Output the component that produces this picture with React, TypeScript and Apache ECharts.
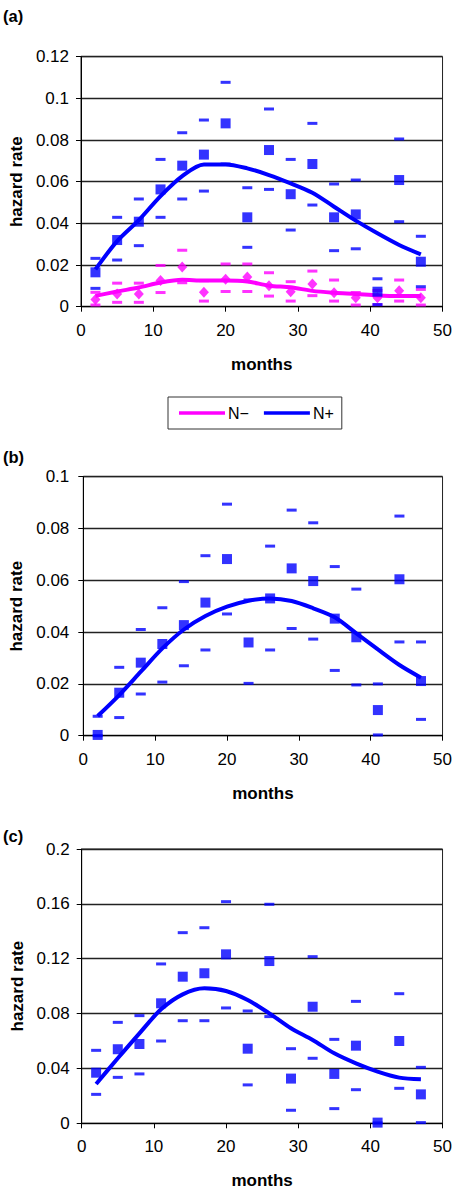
import React, { useEffect, useRef } from "react";
import * as echarts from "echarts";

const months = [2, 5, 8, 11, 14, 17, 20, 23, 26, 29, 32, 35, 38, 41, 44, 47];
const xTicks = { min: 0, max: 50, interval: 10 };

// Panel (a)
const aPosObs = [0.0165, 0.032, 0.0408, 0.0563, 0.0677, 0.073, 0.088, 0.0429, 0.0752, 0.054, 0.0685, 0.0429, 0.0443, 0.0072, 0.0608, 0.0216];
const aPosUpper = [0.0232, 0.0429, 0.0517, 0.0707, 0.0835, 0.0896, 0.1077, 0.0571, 0.0949, 0.0707, 0.088, 0.0589, 0.0608, 0.0134, 0.0805, 0.0338];
const aPosLower = [0.0088, 0.0224, 0.0293, 0.0429, 0.0517, 0.0555, 0.0685, 0.0285, 0.0563, 0.0368, 0.0488, 0.0269, 0.0278, 0.001, 0.0408, 0.0096];
const aPosFit = [0.0179, 0.0315, 0.0416, 0.0531, 0.0627, 0.0683, 0.0683, 0.0664, 0.0632, 0.0592, 0.0547, 0.048, 0.0413, 0.0352, 0.0296, 0.0251];
const aNegObs = [0.0035, 0.0061, 0.0061, 0.0126, 0.019, 0.0069, 0.0132, 0.0142, 0.0101, 0.0072, 0.0109, 0.0067, 0.0043, 0.0043, 0.0077, 0.0043];
const aNegUpper = [0.0069, 0.0113, 0.0113, 0.0198, 0.0271, 0.0125, 0.0205, 0.0205, 0.0163, 0.012, 0.0171, 0.0128, 0.0068, 0.0078, 0.0128, 0.0083];
const aNegLower = [0.0008, 0.0021, 0.0021, 0.0068, 0.0115, 0.0027, 0.0073, 0.0073, 0.0051, 0.0027, 0.0053, 0.0027, 0.0008, 0.001, 0.0027, 0.0008];
const aNegFit = [0.0052, 0.0073, 0.0092, 0.0116, 0.0129, 0.0126, 0.0126, 0.0121, 0.0101, 0.0093, 0.0076, 0.0067, 0.0061, 0.0054, 0.0051, 0.0051];

// Panel (b)
const bObs = [0.0003, 0.0166, 0.0282, 0.0354, 0.0427, 0.0514, 0.0682, 0.036, 0.053, 0.0646, 0.0597, 0.0452, 0.038, 0.0099, 0.0604, 0.0211];
const bUpper = [0.0075, 0.0264, 0.041, 0.0494, 0.0595, 0.0695, 0.0894, 0.0524, 0.0732, 0.0871, 0.0822, 0.0653, 0.0566, 0.02, 0.0848, 0.0362];
const bLower = [0, 0.007, 0.0161, 0.0207, 0.027, 0.0331, 0.047, 0.0202, 0.0331, 0.0414, 0.0373, 0.0252, 0.0196, 0.0003, 0.0362, 0.0063];
const bFit = [0.0076, 0.0157, 0.0247, 0.0337, 0.041, 0.0462, 0.0498, 0.0521, 0.053, 0.052, 0.0492, 0.0457, 0.0395, 0.0333, 0.0273, 0.0224];

// Panel (c)
const cObs = [0.0369, 0.054, 0.0578, 0.0875, 0.1069, 0.1094, 0.1232, 0.0544, 0.1183, 0.0326, 0.085, 0.036, 0.0566, 0.0005, 0.06, 0.0211];
const cUpper = [0.0532, 0.0736, 0.0785, 0.1162, 0.139, 0.1426, 0.1616, 0.0819, 0.1597, 0.0544, 0.1215, 0.0612, 0.0889, null, 0.0945, 0.0408];
const cLower = [0.0211, 0.0335, 0.036, 0.06, 0.0748, 0.0748, 0.0841, 0.028, 0.0778, 0.0095, 0.0474, 0.0107, 0.0245, 0.0003, 0.0255, 0.0005];
const cFit = [0.0287, 0.0474, 0.0656, 0.0831, 0.094, 0.0984, 0.0965, 0.0899, 0.0802, 0.0693, 0.0608, 0.051, 0.0437, 0.0377, 0.0333, 0.0321];

const yScales = [
  { min: 0, max: 0.12, interval: 0.02 },
  { min: 0, max: 0.1, interval: 0.02 },
  { min: 0, max: 0.2, interval: 0.04 },
];
const panelLabels = ["(a)", "(b)", "(c)"];
const legendNames = ["N\u2212", "N+"];

const BLUE = "#0000FF";
const PINK = "#FF00FF";
const FONT = "'Liberation Sans', Arial, Helvetica, sans-serif";

function pairs(vals: (number | null)[]) {
  return months
    .map((m, i) => (vals[i] == null ? null : [m, vals[i]]))
    .filter((p) => p !== null);
}

function groupSeries(
  idx: number,
  name: string,
  color: string,
  obs: (number | null)[],
  upper: (number | null)[],
  lower: (number | null)[],
  fit: (number | null)[],
  symbol: string,
  symbolSize: number | number[]
) {
  const common = { xAxisIndex: idx, yAxisIndex: idx };
  return [
    {
      ...common,
      type: "scatter",
      name: name + " upper",
      symbol: "rect",
      symbolSize: [10, 3],
      itemStyle: { color },
      data: pairs(upper),
      z: 3,
    },
    {
      ...common,
      type: "scatter",
      name: name + " lower",
      symbol: "rect",
      symbolSize: [10, 3],
      itemStyle: { color },
      data: pairs(lower),
      z: 3,
    },
    {
      ...common,
      type: "line",
      name,
      smooth: 0.3,
      showSymbol: false,
      symbol: "none",
      lineStyle: { color, width: 4 },
      itemStyle: { color },
      data: pairs(fit),
      z: 2,
    },
    {
      ...common,
      type: "scatter",
      name: name + " obs",
      symbol,
      symbolSize,
      itemStyle: { color },
      data: pairs(obs),
      z: 4,
    },
  ];
}

export default function App() {
  const ref = useRef<HTMLDivElement>(null);

  useEffect(() => {
    if (!ref.current) return;
    const chart = echarts.init(ref.current, null, { renderer: "svg" });

    const grids = [
      { left: 78.7, top: 56.7, width: 364.3, height: 250 },
      { left: 83.3, top: 476.7, width: 361.7, height: 259 },
      { left: 81.7, top: 849, width: 361.6, height: 274.3 },
    ];
    const labelTops = [7, 448, 827];
    const yLabelMargins = [12, 14, 12];

    const series: any[] = [
      ...groupSeries(0, legendNames[0], PINK, aNegObs, aNegUpper, aNegLower, aNegFit, "diamond", [10, 11]),
      ...groupSeries(0, legendNames[1], BLUE, aPosObs, aPosUpper, aPosLower, aPosFit, "rect", 10),
      ...groupSeries(1, legendNames[1], BLUE, bObs, bUpper, bLower, bFit, "rect", 10),
      ...groupSeries(2, legendNames[1], BLUE, cObs, cUpper, cLower, cFit, "rect", 10),
    ];

    chart.setOption({
      animation: false,
      backgroundColor: "#fff",
      textStyle: { fontFamily: FONT, color: "#000" },
      title: panelLabels.map((t, i) => ({
        text: t,
        left: 3,
        top: labelTops[i],
        padding: 0,
        textStyle: { fontFamily: FONT, fontSize: 16.5, fontWeight: "bold", color: "#000" },
      })),
      legend: {
        data: legendNames,
        left: 168,
        top: 397,
        orient: "horizontal",
        icon: "rect",
        itemWidth: 46,
        itemHeight: 3.5,
        itemGap: 15,
        padding: [8, 8, 8, 11],
        borderColor: "#333",
        borderWidth: 1,
        selectedMode: false,
        textStyle: { fontFamily: FONT, fontSize: 16, color: "#000", padding: [0, 0, 0, -2] },
      },
      grid: grids.map((g) => ({
        ...g,
        show: true,
        borderColor: "#222",
        borderWidth: 1,
        backgroundColor: "transparent",
        containLabel: false,
      })),
      xAxis: grids.map((_, i) => ({
        type: "value",
        gridIndex: i,
        min: xTicks.min,
        max: xTicks.max,
        interval: xTicks.interval,
        name: "months",
        nameLocation: "middle",
        nameGap: 49,
        nameTextStyle: { fontFamily: FONT, fontSize: 17, fontWeight: "bold", color: "#000" },
        axisLine: { show: true, onZero: false, lineStyle: { color: "#000", width: 1 } },
        axisTick: { show: true, inside: false, length: 5, lineStyle: { color: "#000" } },
        axisLabel: { fontFamily: FONT, fontSize: 17, color: "#000", margin: 15 },
        splitLine: { show: false },
      })),
      yAxis: grids.map((_, i) => ({
        type: "value",
        gridIndex: i,
        min: yScales[i].min,
        max: yScales[i].max,
        interval: yScales[i].interval,
        name: "hazard rate",
        nameLocation: "middle",
        nameGap: 55,
        nameTextStyle: { fontFamily: FONT, fontSize: 17, fontWeight: "bold", color: "#000" },
        axisLine: { show: true, lineStyle: { color: "#000", width: 1 } },
        axisTick: { show: true, inside: false, length: 5, lineStyle: { color: "#000" } },
        axisLabel: { fontFamily: FONT, fontSize: 17, color: "#000", margin: yLabelMargins[i] },
        splitLine: { show: true, lineStyle: { color: "#222", width: 1.3 } },
      })),
      series,
    });

    return () => {
      chart.dispose();
    };
  }, []);

  return (
    <div
      ref={ref}
      style={{ position: "absolute", left: 0, top: 0, width: 455, height: 1194, background: "#fff" }}
    />
  );
}
